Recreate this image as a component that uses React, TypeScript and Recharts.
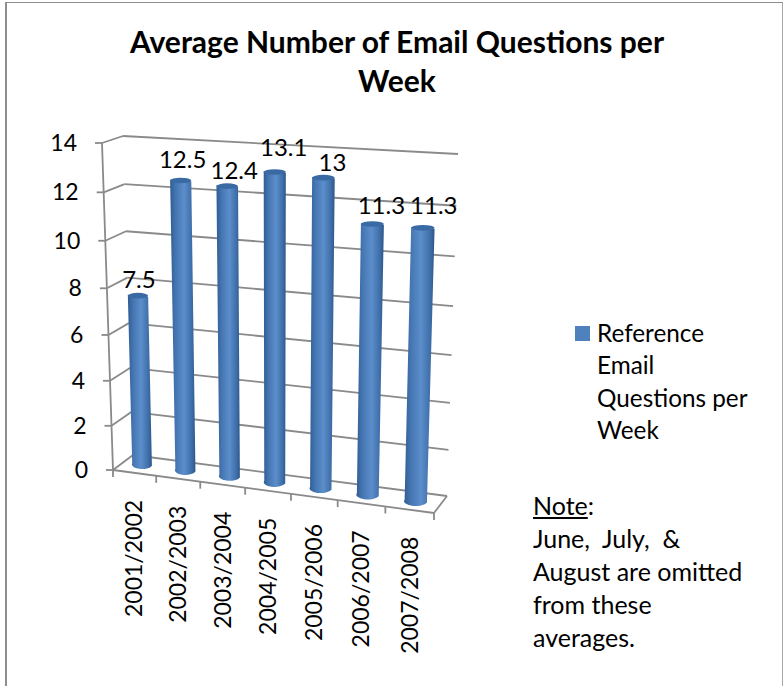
import { Bar, BarChart, CartesianGrid, LabelList, Legend, XAxis, YAxis } from 'recharts';

const seasons = ['2001/2002', '2002/2003', '2003/2004', '2004/2005', '2005/2006', '2006/2007', '2007/2008'];
const questionsPerWeek = [7.5, 12.5, 12.4, 13.1, 13, 11.3, 11.3];
const yTicks = [0, 2, 4, 6, 8, 10, 12, 14];

const rows = seasons.map((season, i) => ({ season, questions: questionsPerWeek[i] }));

const FONT = 'Lato, sans-serif';
const LINE = '#8a8a8a';

// plot rectangle handed to recharts; everything is then warped onto the 3d planes
const PLOT = { left: 120, top: 142, width: 320, height: 323 };

type Pt = [number, number];

// unit square -> quad (bottom left, bottom right, top right, top left)
function homography(p0: Pt, p1: Pt, p2: Pt, p3: Pt) {
  const dx1 = p1[0] - p2[0];
  const dx2 = p3[0] - p2[0];
  const dy1 = p1[1] - p2[1];
  const dy2 = p3[1] - p2[1];
  const sx = p0[0] - p1[0] + p2[0] - p3[0];
  const sy = p0[1] - p1[1] + p2[1] - p3[1];
  const den = dx1 * dy2 - dx2 * dy1;
  const g = (sx * dy2 - dx2 * sy) / den;
  const h = (dx1 * sy - sx * dy1) / den;
  const a = p1[0] - p0[0] + g * p1[0];
  const b = p3[0] - p0[0] + h * p3[0];
  const d = p1[1] - p0[1] + g * p1[1];
  const e = p3[1] - p0[1] + h * p3[1];
  return (u: number, v: number): Pt => {
    const w = g * u + h * v + 1;
    return [(a * u + b * v + p0[0]) / w, (d * u + e * v + p0[1]) / w];
  };
}

const front = homography([113, 470], [434, 513], [445, 164], [102, 143]);
const back = homography([133, 455], [447, 496], [458, 154], [123, 136]);
const middle = homography([121, 461.5], [440.5, 504.5], [451, 160], [112, 139.5]);

const toU = (x: number) => (x - PLOT.left) / PLOT.width;
const toV = (y: number) => (PLOT.top + PLOT.height - y) / PLOT.height;

const seg = (a: Pt, b: Pt, key?: string) => (
  <line key={key} x1={a[0]} y1={a[1]} x2={b[0]} y2={b[1]} stroke={LINE} strokeWidth={1.8} />
);

function WallLine(props: any) {
  const v = toV(props.y1);
  const f = front(0, v);
  const k = back(0, v);
  return (
    <g key={props.key}>
      {seg([f[0] - 7, f[1]], f)}
      {seg(f, k)}
      {seg(k, back(1, v))}
    </g>
  );
}

function Frame() {
  return (
    <g>
      {seg(front(0, 0), front(0, 1), 'axis')}
      {seg(front(0, 0), front(1, 0), 'floor')}
      {seg(front(1, 0), back(1, 0), 'side')}
      {seasons.map((s, i) => {
        const p = front((i + 1) / seasons.length, 0);
        return seg(p, [p[0], p[1] + 7], s);
      })}
      {seg(front(0, 0), [front(0, 0)[0], front(0, 0)[1] + 7], 'first')}
      <text x={397} y={53} textAnchor="middle" fontFamily={FONT} fontWeight={700} fontSize={30} fill="#000">
        Average Number of Email Questions per
      </text>
      <text x={397} y={92} textAnchor="middle" fontFamily={FONT} fontWeight={700} fontSize={30} fill="#000">
        Week
      </text>
      <defs>
        <linearGradient id="tube" x1="0" y1="0" x2="1" y2="0">
          <stop offset="0" stopColor="#2f5c93" />
          <stop offset="0.22" stopColor="#4576b2" />
          <stop offset="0.55" stopColor="#5b8ecb" />
          <stop offset="0.85" stopColor="#3f6fa9" />
          <stop offset="1" stopColor="#2c5688" />
        </linearGradient>
      </defs>
    </g>
  );
}

function YTick({ y, payload }: any) {
  const p = front(0, toV(y));
  return (
    <text x={p[0] - 25} y={p[1]} dy={8} textAnchor="end" fontFamily={FONT} fontSize={23} fill="#000">
      {payload.value}
    </text>
  );
}

function XTick({ x, payload }: any) {
  const p = front(toU(x), 0);
  const ty = p[1] + 27;
  return (
    <text
      x={p[0]}
      y={ty}
      dy={8}
      textAnchor="end"
      transform={`rotate(-90 ${p[0]} ${ty})`}
      fontFamily={FONT}
      fontSize={23}
      fill="#000"
    >
      {payload.value}
    </text>
  );
}

function Cylinder({ x, y, width, height }: any) {
  const u0 = toU(x);
  const u1 = toU(x + width);
  const vTop = toV(y);
  const vBase = toV(y + height);
  const tl = middle(u0, vTop);
  const tr = middle(u1, vTop);
  const bl = middle(u0, vBase);
  const br = middle(u1, vBase);
  const rxTop = (tr[0] - tl[0]) / 2;
  const rxBase = (br[0] - bl[0]) / 2;
  const body = `M${tl[0]} ${tl[1]} L${tr[0]} ${tr[1]} L${br[0]} ${br[1]} A${rxBase} 4.5 0 0 1 ${bl[0]} ${bl[1]} Z`;
  const cx = (tl[0] + tr[0]) / 2;
  const cy = (tl[1] + tr[1]) / 2;
  return (
    <g>
      <path d={body} fill="url(#tube)" />
      <ellipse cx={cx} cy={cy} rx={rxTop} ry={2.8} fill="#3a6aa3" />
    </g>
  );
}

// where each value label sits relative to the bar top
const labelNudge: Pt[] = [[1, -16], [2, -20], [7, -15], [9, -24], [9, -15], [9, -18], [11, -22]];

function ValueLabel({ x, y, width, value, index }: any) {
  const p = middle(toU(x + width / 2), toV(y));
  const n = labelNudge[index];
  return (
    <text x={p[0] + n[0]} y={p[1] + n[1]} dy={8} textAnchor="middle" fontFamily={FONT} fontSize={24} fill="#000">
      {value}
    </text>
  );
}

function LegendBox({ payload }: any) {
  const item = payload?.[0];
  if (!item) return null;
  return (
    <div style={{ position: 'relative', width: 160, fontFamily: FONT, fontSize: 24.3, lineHeight: '32.3px', color: '#000' }}>
      <span style={{ position: 'absolute', left: -22, top: 9, width: 15, height: 15, background: '#4f81bd' }} />
      {item.value}
    </div>
  );
}

export default function App() {
  return (
    <div style={{ position: 'fixed', left: 0, top: 0, width: 783, height: 686, overflow: 'hidden', background: '#fff' }}>
      <div
        style={{
          position: 'absolute',
          left: 5,
          top: 2,
          width: 775,
          height: 720,
          borderTop: '1.5px solid #8e8e8e',
          borderLeft: '2px solid #8e8e8e',
          borderRight: '1.5px solid #a8a8a8',
        }}
      />
      <div style={{ position: 'absolute', left: 0, top: 0 }}>
        <BarChart
          width={783}
          height={686}
          data={rows}
          barSize={21}
          margin={{ top: PLOT.top, left: PLOT.left - 60, right: 783 - PLOT.left - PLOT.width, bottom: 686 - PLOT.top - PLOT.height - 40 }}
        >
          <Frame />
          <CartesianGrid vertical={false} horizontal={(p: any) => <WallLine {...p} />} />
          <XAxis dataKey="season" height={40} axisLine={false} tickLine={false} interval={0} tick={<XTick />} />
          <YAxis domain={[0, 14]} ticks={yTicks} width={60} axisLine={false} tickLine={false} tick={<YTick />} />
          <Legend
            layout="vertical"
            align="center"
            verticalAlign="middle"
            content={<LegendBox />}
            wrapperStyle={{ left: 597, top: 317, width: 160 }}
          />
          <Bar dataKey="questions" name="Reference Email Questions per Week" fill="#4f81bd" shape={<Cylinder />} isAnimationActive={false}>
            <LabelList dataKey="questions" content={<ValueLabel />} />
          </Bar>
        </BarChart>
      </div>
      <div style={{ position: 'absolute', left: 533, top: 489, width: 245, fontFamily: FONT, fontSize: 25, lineHeight: '33px', color: '#000' }}>
        <span style={{ textDecoration: 'underline' }}>Note</span>:
        <br />
        June,&nbsp; July,&nbsp; &amp;
        <br />
        August are omitted
        <br />
        from these
        <br />
        averages.
      </div>
    </div>
  );
}
